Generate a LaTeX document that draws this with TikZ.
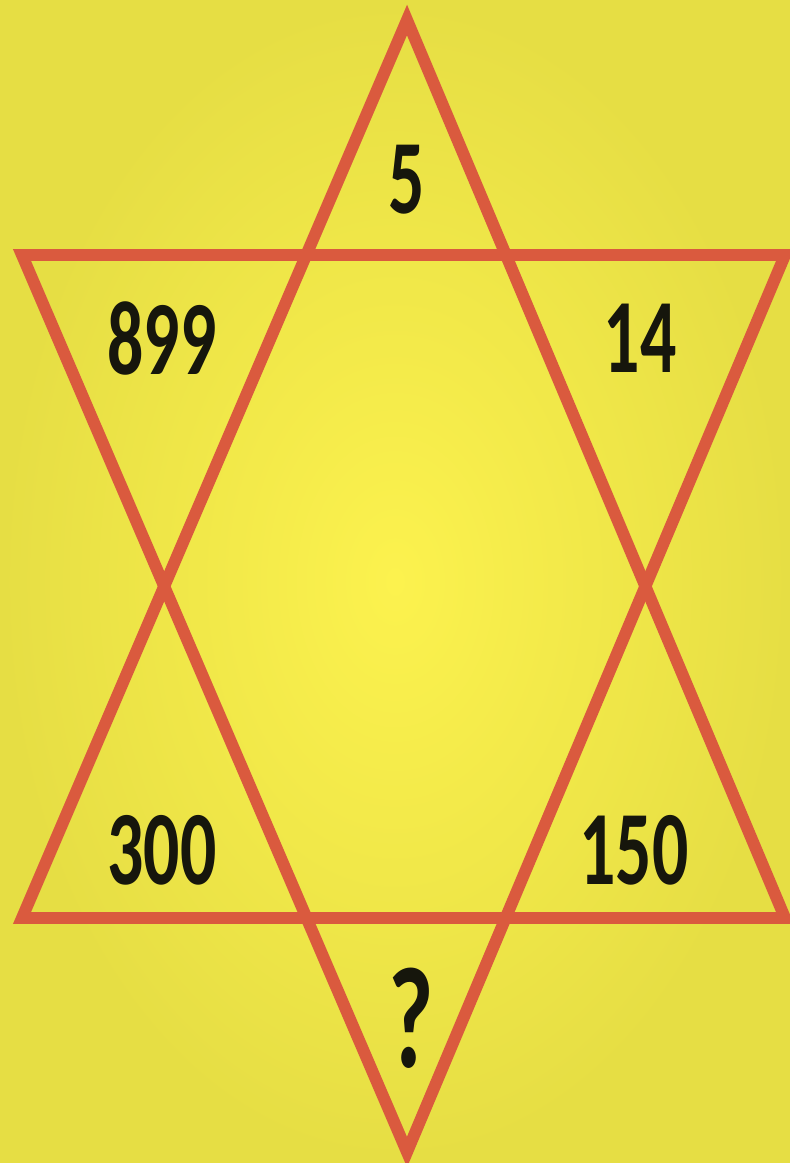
\documentclass[tikz,border=0pt]{standalone}
\usepackage{fontspec}
\newfontfamily\numfont[FakeStretch=0.68]{Carlito}
\usepackage{tikz}
\definecolor{bgout}{RGB}{230,222,68}
\definecolor{bgin}{RGB}{252,242,78}
\definecolor{starline}{RGB}{218,90,62}
\definecolor{numtext}{RGB}{22,22,12}
\tikzset{
  starside/.style={draw=starline, line width=6.8pt, line join=miter, miter limit=10},
  num/.style={font=\numfont\bfseries\fontsize{60}{66}\selectfont, text=numtext, inner sep=0pt},
}

\begin{document}
\begin{tikzpicture}[x=0.02cm, y=-0.02cm]
% background
\useasboundingbox (0,0) rectangle (790,1163);
\shade[inner color=bgin, outer color=bgout] (0,0) rectangle (790,1163);

% corners of the two triangles
\coordinate (uptop) at (407,20);
\coordinate (upleft) at (22,918);
\coordinate (upright) at (785,918);
\coordinate (dnleft) at (22,255);
\coordinate (dnright) at (785,255);
\coordinate (dnbottom) at (407,1152);

\draw[starside] (uptop) -- (upright) -- (upleft) -- cycle;
\draw[starside] (dnleft) -- (dnright) -- (dnbottom) -- cycle;

% numbers
\node[num] (ntop) at (407,180) {5};
\node[num] (nleftup) at (162,338) {899};
\node[num] (nrightup) at (640,338) {14};
\node[num] (nleftdn) at (162,850) {300};
\node[num] (nrightdn) at (634,850) {150};
\node[num, font=\numfont\bfseries\fontsize{82}{90}\selectfont] (nbottom) at (411,1018) {?};
\end{tikzpicture}
\end{document}
